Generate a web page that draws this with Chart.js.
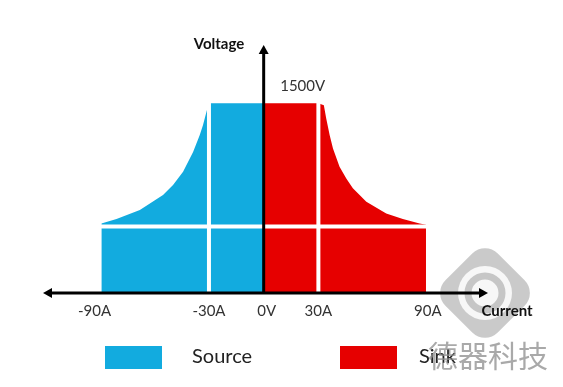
<!DOCTYPE html>
<html>
<head>
<meta charset="utf-8">
<script src="https://cdn.jsdelivr.net/npm/chart.js@4/dist/chart.umd.min.js"></script>
<style>
  html, body { margin: 0; padding: 0; background: #fff; }
  #wrap { width: 563px; height: 387px; }
</style>
</head>
<body>
<div id="wrap"><canvas id="vi"></canvas></div>
<script>
// Source quadrant (negative current)
const sourceCurrent = [-89, -89, -80.7, -67.9, -55.2, -49.7, -44.2, -38.7, -35.1, -33.3, -31.4, -30, 0];
const sourceVoltage = [0, 550, 584, 655, 774, 853, 958, 1115, 1247, 1326, 1431, 1500, 1500];

// Sink quadrant (positive current)
const sinkCurrent = [0, 30, 33, 34.3, 36.2, 38.0, 41.6, 45.3, 48.9, 56.3, 67.2, 76.3, 85.5, 89, 89];
const sinkVoltage = [1500, 1500, 1484, 1379, 1247, 1142, 997, 905, 827, 721, 629, 584, 550, 540, 0];

// white divider lines
const dividerCurrent = [-30, 30];
const dividerVoltage = 525;
const dividerSpan = [-89, 89];

// axis text
const tickValues = [-90, -30, 0, 30, 90];
const tickLabels = ['-90A', '-30A', '0V', '30A', '90A'];
const topLabel = '1500V';
const xTitle = 'Current';
const yTitle = 'Voltage';

const seriesNames = ['Source', 'Sink'];
const seriesColors = ['#12abdf', '#e60000'];

const toPoints = (xs, ys) => xs.map((x, i) => ({ x: x, y: ys[i] }));

function arrow(ctx, x, y, dir) {     // filled arrow head pointing in dir (radians)
  ctx.save();
  ctx.translate(x, y);
  ctx.rotate(dir);
  ctx.beginPath();
  ctx.moveTo(0, 0);
  ctx.lineTo(-9, -5);
  ctx.lineTo(-9, 5);
  ctx.closePath();
  ctx.fill();
  ctx.restore();
}

const diagram = {
  id: 'diagram',
  afterDatasetsDraw(chart) {
    const ctx = chart.ctx;
    const xs = chart.scales.x, ys = chart.scales.y;
    const area = chart.chartArea;
    const x0 = xs.getPixelForValue(0), y0 = ys.getPixelForValue(0);

    // white dividers
    ctx.save();
    ctx.strokeStyle = '#fff';
    ctx.lineWidth = 4;
    dividerCurrent.forEach(v => {
      const px = xs.getPixelForValue(v);
      ctx.beginPath();
      ctx.moveTo(px, ys.getPixelForValue(1560));
      ctx.lineTo(px, y0);
      ctx.stroke();
    });
    const hy = ys.getPixelForValue(dividerVoltage);
    ctx.beginPath();
    ctx.moveTo(xs.getPixelForValue(dividerSpan[0]) - 2, hy);
    ctx.lineTo(xs.getPixelForValue(dividerSpan[1]) + 2, hy);
    ctx.stroke();
    ctx.restore();

    // watermark logo (rough)
    ctx.save();
    ctx.translate(485, 293);
    ctx.rotate(Math.PI / 4);
    ctx.fillStyle = 'rgba(150,150,150,0.5)';
    ctx.beginPath();
    ctx.roundRect(-37, -37, 74, 74, 18);
    ctx.fill();
    ctx.fillStyle = 'rgba(255,255,255,0.85)';
    ctx.beginPath();
    ctx.arc(0, 0, 27, 0, Math.PI * 2);
    ctx.fill();
    ctx.strokeStyle = 'rgba(150,150,150,0.5)';
    ctx.lineWidth = 7;
    ctx.beginPath();
    ctx.arc(0, 0, 17, 0, Math.PI * 2);
    ctx.stroke();
    ctx.restore();

    // axes with arrows
    ctx.save();
    ctx.strokeStyle = '#000';
    ctx.fillStyle = '#000';
    ctx.lineWidth = 3;
    ctx.beginPath();
    ctx.moveTo(area.left + 4, y0);
    ctx.lineTo(area.right - 4, y0);
    ctx.stroke();
    arrow(ctx, area.left, y0, Math.PI);
    arrow(ctx, area.right, y0, 0);
    ctx.beginPath();
    ctx.moveTo(x0, y0);
    ctx.lineTo(x0, area.top + 4);
    ctx.stroke();
    arrow(ctx, x0, area.top, -Math.PI / 2);
    ctx.restore();

    // labels
    ctx.save();
    ctx.textBaseline = 'middle';
    ctx.textAlign = 'center';
    ctx.fillStyle = '#333';
    ctx.font = '15px Lato';
    tickValues.forEach((v, i) => {
      let px = xs.getPixelForValue(v);
      if (v === 0) px += 3;
      if (v === -90) px -= 5;
      ctx.fillText(tickLabels[i], px, 311);
    });
    ctx.fillText(topLabel, x0 + 39, 86);
    ctx.fillStyle = '#111';
    ctx.font = 'bold 15px Lato';
    ctx.fillText(xTitle, 507, 311);
    ctx.fillText(yTitle, 219, 44);

    // legend
    const boxX = [105, 340], textX = [192, 419];
    ctx.textAlign = 'left';
    ctx.font = '20px Lato';
    chart.data.datasets.forEach((ds, i) => {
      ctx.fillStyle = ds.backgroundColor;
      ctx.fillRect(boxX[i], 346, 57, 23);
      ctx.fillStyle = '#222';
      ctx.fillText(ds.label, textX[i], 357);
    });

    // watermark text
    ctx.fillStyle = 'rgba(140,140,140,0.75)';
    ctx.font = '30px "Noto Sans CJK SC"';
    ctx.fillText('德器科技', 428, 356);
    ctx.restore();
  }
};

new Chart(document.getElementById('vi'), {
  type: 'line',
  data: {
    datasets: [
      {
        label: seriesNames[0],
        data: toPoints(sourceCurrent, sourceVoltage),
        backgroundColor: seriesColors[0],
        borderWidth: 0,
        pointRadius: 0,
        fill: 'origin',
        tension: 0
      },
      {
        label: seriesNames[1],
        data: toPoints(sinkCurrent, sinkVoltage),
        backgroundColor: seriesColors[1],
        borderWidth: 0,
        pointRadius: 0,
        fill: 'origin',
        tension: 0
      }
    ]
  },
  options: {
    responsive: true,
    maintainAspectRatio: false,
    animation: false,
    layout: { padding: { left: 43, right: 75, top: 45, bottom: 94 } },
    scales: {
      x: { type: 'linear', min: -121, max: 123, display: false },
      y: { min: 0, max: 1960, display: false }
    },
    plugins: {
      legend: { display: false },
      tooltip: { enabled: false }
    }
  },
  plugins: [diagram]
});
</script>
</body>
</html>
